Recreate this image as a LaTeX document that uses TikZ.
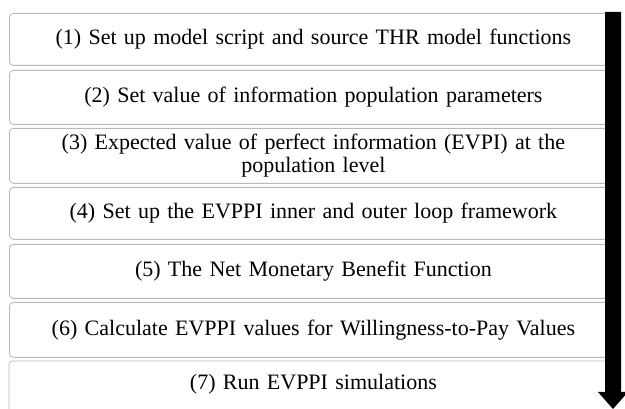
\documentclass[tikz,border=0pt]{standalone}
\usepackage{fontspec}
\setmainfont{Liberation Serif}
\begin{document}
\begin{tikzpicture}[x=1pt,y=-1pt,
  stepbox/.style={draw=black!28, line width=0.8pt, rounded corners=4pt, fill=white,
    minimum width=608pt, inner sep=0pt, anchor=north west,
    font=\fontsize{22}{23}\selectfont, align=center, text width=600pt},
  flowarrow/.style={fill=black}]
\useasboundingbox (0,0) rectangle (625,409);
\begin{scope}
\clip (0,0) rectangle (625,409);
\node[stepbox, minimum height=52pt] (b1) at (9,13) {(1) Set up model script and source THR model functions};
\node[stepbox, minimum height=54pt] (b2) at (9,70) {(2) Set value of information population parameters};
\node[stepbox, minimum height=55pt] (b3) at (9,128) {(3) Expected value of perfect information (EVPI) at the\\population level};
\node[stepbox, minimum height=52pt] (b4) at (9,187) {(4) Set up the EVPPI inner and outer loop framework};
\node[stepbox, minimum height=54pt] (b5) at (9,244) {(5) The Net Monetary Benefit Function};
\node[stepbox, minimum height=55pt] (b6) at (9,302) {(6) Calculate EVPPI values for Willingness-to-Pay Values};
\node[stepbox, minimum height=46pt, draw=none] (b7) at (9,361) {(7) Run EVPPI simulations};
\draw[draw=black!28, line width=0.8pt, rounded corners=4pt] ([yshift=-20pt]b7.south west) -- (b7.north west) -- (b7.north east);
\coordinate (atop) at (613,12);
\coordinate (abot) at (613,409);
\fill[flowarrow] ([xshift=-8pt]atop) -- ([xshift=8pt]atop) -- ([xshift=8pt,yshift=17pt]abot)
  -- ([xshift=15pt,yshift=17pt]abot) -- (abot) -- ([xshift=-15pt,yshift=17pt]abot)
  -- ([xshift=-8pt,yshift=17pt]abot) -- cycle;
\end{scope}
\end{tikzpicture}
\end{document}
